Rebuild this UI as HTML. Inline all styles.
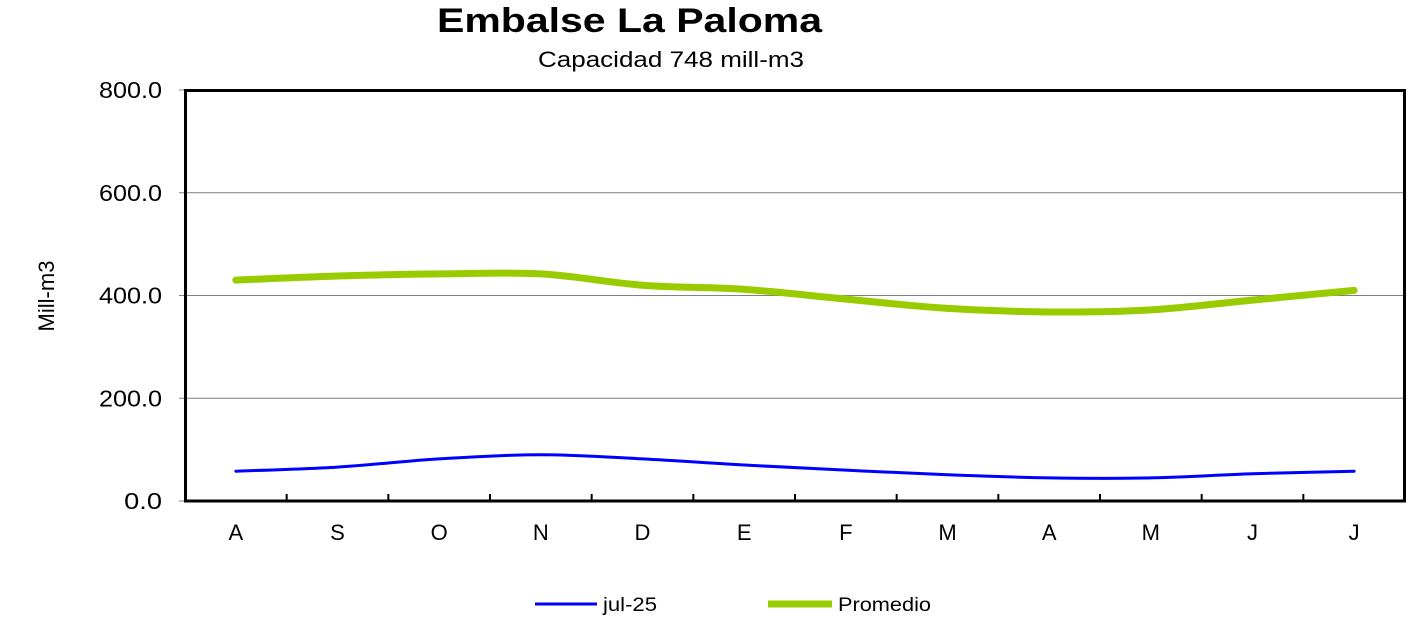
<!DOCTYPE html>
<html><head><meta charset="utf-8"><style>
body{margin:0;background:#fff;}
svg text{font-family:"Liberation Sans",sans-serif;}
</style></head><body>
<svg width="1428" height="622" xmlns="http://www.w3.org/2000/svg">
<text x="437" y="32" font-size="34" font-weight="bold" textLength="385" lengthAdjust="spacingAndGlyphs">Embalse La Paloma</text>
<text x="538" y="67" font-size="22" textLength="266" lengthAdjust="spacingAndGlyphs">Capacidad 748 mill-m3</text>
<text x="54" y="296" font-size="22" text-anchor="middle" transform="rotate(-90 54 296)">Mill-m3</text>
<g id="grid"></g>
<g id="series"></g>
<rect x="185.5" y="90.5" width="1219" height="410.5" fill="none" stroke="#000" stroke-width="3"/>
<g id="xaxis"></g>
<g>
<line x1="535" y1="604" x2="597" y2="604" stroke="#0000ff" stroke-width="3"/>
<text x="603" y="611" font-size="19" textLength="54" lengthAdjust="spacingAndGlyphs">jul-25</text>
<line x1="768" y1="604" x2="832" y2="604" stroke="#99cc00" stroke-width="7"/>
<text x="838" y="611" font-size="19" textLength="93" lengthAdjust="spacingAndGlyphs">Promedio</text>
</g>
</svg>
<script>
const categories=["A","S","O","N","D","E","F","M","A","M","J","J"];
const jul25=[58,66,82,90,82,70,60,51,45,45,53,58];
const promedio=[430,438,442,442,420,412,393,375,368,372,391,410];
const yTicks=[0,200,400,600,800];
const yLabels=["0.0","200.0","400.0","600.0","800.0"];
const NS="http://www.w3.org/2000/svg";
const x0=185,x1=1405,y0=501,y1=90;
const bw=(x1-x0)/categories.length;
const xs=i=>x0+bw*(i+0.5);
const ys=v=>y0-(v/800)*(y0-y1);
function mk(t,a,p){const e=document.createElementNS(NS,t);for(const k in a)e.setAttribute(k,a[k]);p.appendChild(e);return e;}
const grid=document.getElementById('grid');
yTicks.forEach((v,i)=>{
 const y=ys(v);
 if(v>0&&v<800){const l=mk('line',{x1:x0,x2:x1,y1:y,y2:y,stroke:'#808080','stroke-width':1},grid);
 
 }
 const tk=mk('line',{x1:x0-6,x2:x0,y1:y,y2:y,stroke:'#808080','stroke-width':1},grid);
 
 
 const w=yLabels[i].length*12.6;
 const t=mk('text',{x:162-w,y:y+8,'font-size':23,textLength:w,lengthAdjust:'spacingAndGlyphs'},grid);
 t.textContent=yLabels[i];
 
 
});
const xa=document.getElementById('xaxis');
categories.forEach((c,i)=>{
 if(i>0){const tk=mk('line',{x1:x0+bw*i,x2:x0+bw*i,y1:y0-7,y2:y0,stroke:'#000','stroke-width':2},xa);
 
 }
 const t=mk('text',{x:xs(i),y:540,'font-size':22,'text-anchor':'middle'},xa);
 t.textContent=c;
 
 
});
function smooth(vals){
 const p=vals.map((v,i)=>[xs(i),ys(v)]);
 let d='M'+p[0][0]+','+p[0][1];
 for(let i=0;i<p.length-1;i++){
  const a=p[i-1]||p[i],b=p[i],c=p[i+1],e=p[i+2]||c;
  const c1=[b[0]+(c[0]-a[0])/6,b[1]+(c[1]-a[1])/6],c2=[c[0]-(e[0]-b[0])/6,c[1]-(e[1]-b[1])/6];
  d+=' C'+c1+' '+c2+' '+c;
 }
 return d;
}
const sg=document.getElementById('series');
const pp=mk('path',{d:smooth(promedio),fill:'none',stroke:'#99cc00','stroke-width':7,'stroke-linecap':'round'},sg);


const jp=mk('path',{d:smooth(jul25),fill:'none',stroke:'#0000ff','stroke-width':3,'stroke-linecap':'round'},sg);


</script>
</body></html>
